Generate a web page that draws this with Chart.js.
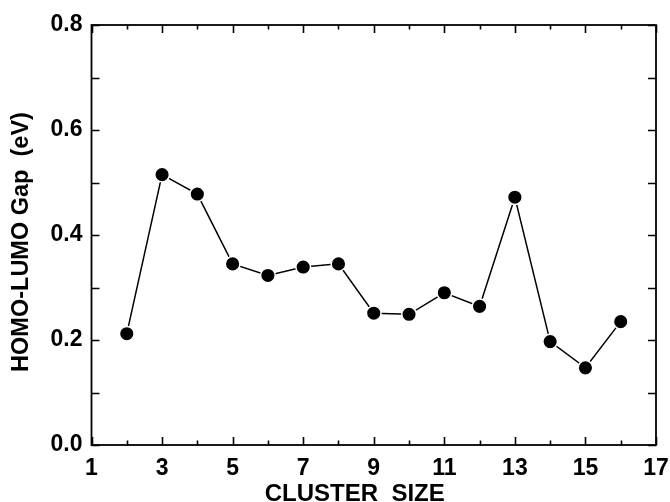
<!DOCTYPE html>
<html>
<head>
<meta charset="utf-8">
<script src="https://cdn.jsdelivr.net/npm/chart.js@4.4.1/dist/chart.umd.min.js"></script>
<style>
  html, body { margin: 0; padding: 0; background: #fff; }
  #wrap { width: 670px; height: 502px; }
</style>
</head>
<body>
<div id="wrap"><canvas id="c" width="670" height="502"></canvas></div>
<script>
// Cluster size (number of atoms) and its HOMO-LUMO gap in eV
const clusterSizes = [2, 3, 4, 5, 6, 7, 8, 9, 10, 11, 12, 13, 14, 15, 16];
const homoLumoGap = [0.212, 0.515, 0.478, 0.345, 0.323, 0.339, 0.345, 0.251, 0.249, 0.290, 0.264, 0.472, 0.197, 0.147, 0.235];

// Axis ranges and tick values
const xMajorTicks = [1, 3, 5, 7, 9, 11, 13, 15, 17];
const xMinorTicks = [2, 4, 6, 8, 10, 12, 14, 16];
const yTicks = [0.0, 0.1, 0.2, 0.3, 0.4, 0.5, 0.6, 0.7, 0.8];

const xTitle = 'CLUSTER  SIZE';
const yTitle = 'HOMO-LUMO Gap  (eV)';

const FONT = '"Liberation Sans", Arial, Helvetica, sans-serif';

// Frame with inward ticks on all four sides, plus axis titles
const framePlugin = {
  id: 'frame',
  afterDraw(chart) {
    const { ctx, chartArea: a, scales: { x, y } } = chart;
    ctx.save();
    ctx.strokeStyle = '#000';
    ctx.lineWidth = 1.8;
    ctx.strokeRect(a.left, a.top, a.right - a.left, a.bottom - a.top);

    const majorLen = 8, minorLen = 4.5;
    ctx.lineWidth = 1.6;
    ctx.beginPath();
    const xTick = (v, len) => {
      const px = Math.round(x.getPixelForValue(v)) + 0.5;
      ctx.moveTo(px, a.bottom); ctx.lineTo(px, a.bottom - len);
      ctx.moveTo(px, a.top); ctx.lineTo(px, a.top + len);
    };
    xMajorTicks.forEach(v => xTick(v, majorLen));
    xMinorTicks.forEach(v => xTick(v, minorLen));
    yTicks.forEach(v => {
      const py = Math.round(y.getPixelForValue(v)) + 0.5;
      ctx.moveTo(a.left, py); ctx.lineTo(a.left + majorLen, py);
      ctx.moveTo(a.right, py); ctx.lineTo(a.right - majorLen, py);
    });
    ctx.stroke();

    // axis titles
    ctx.fillStyle = '#000';
    ctx.textAlign = 'center';
    ctx.textBaseline = 'middle';
    ctx.font = 'bold 24px ' + FONT;
    ctx.fillText(xTitle, (a.left + a.right) / 2 - 19, a.bottom + 49);
    ctx.font = 'bold 23.5px ' + FONT;
    ctx.translate(a.left - 70, (a.top + a.bottom) / 2 + 7);
    ctx.rotate(-Math.PI / 2);
    ctx.fillText(yTitle, 0, 0);
    ctx.restore();
  }
};

new Chart(document.getElementById('c'), {
  type: 'line',
  data: {
    datasets: [{
      data: clusterSizes.map((s, i) => ({ x: s, y: homoLumoGap[i] })),
      borderColor: '#000',
      borderWidth: 1.5,
      backgroundColor: '#000',
      pointBackgroundColor: '#000',
      pointBorderColor: '#fff',
      pointBorderWidth: 1.5,
      pointRadius: 7.3,
      pointHoverRadius: 7.3,
      tension: 0
    }]
  },
  options: {
    responsive: false,
    animation: false,
    events: [],
    layout: { padding: { left: 0, right: 14, top: 25, bottom: 0 } },
    plugins: { legend: { display: false }, tooltip: { enabled: false } },
    scales: {
      x: {
        type: 'linear',
        min: 1, max: 17,
        border: { display: false },
        grid: { display: false, drawTicks: false },
        ticks: {
          stepSize: 2,
          padding: 10,
          color: '#000',
          font: { family: FONT, size: 23, weight: 'bold' },
          maxRotation: 0,
          autoSkip: false
        },
        afterFit(scale) {
          scale.height = 57;
          scale.paddingLeft = 0;
          scale.paddingRight = 0;
        }
      },
      y: {
        min: 0, max: 0.8,
        border: { display: false },
        grid: { display: false, drawTicks: false },
        ticks: {
          stepSize: 0.2,
          padding: 9,
          color: '#000',
          font: { family: FONT, size: 23, weight: 'bold' },
          callback: v => Number(v).toFixed(1)
        },
        afterFit(scale) {
          scale.width = 91.5;
          scale.paddingTop = 0;
          scale.paddingBottom = 0;
        }
      }
    }
  },
  plugins: [framePlugin]
});
</script>
</body>
</html>
